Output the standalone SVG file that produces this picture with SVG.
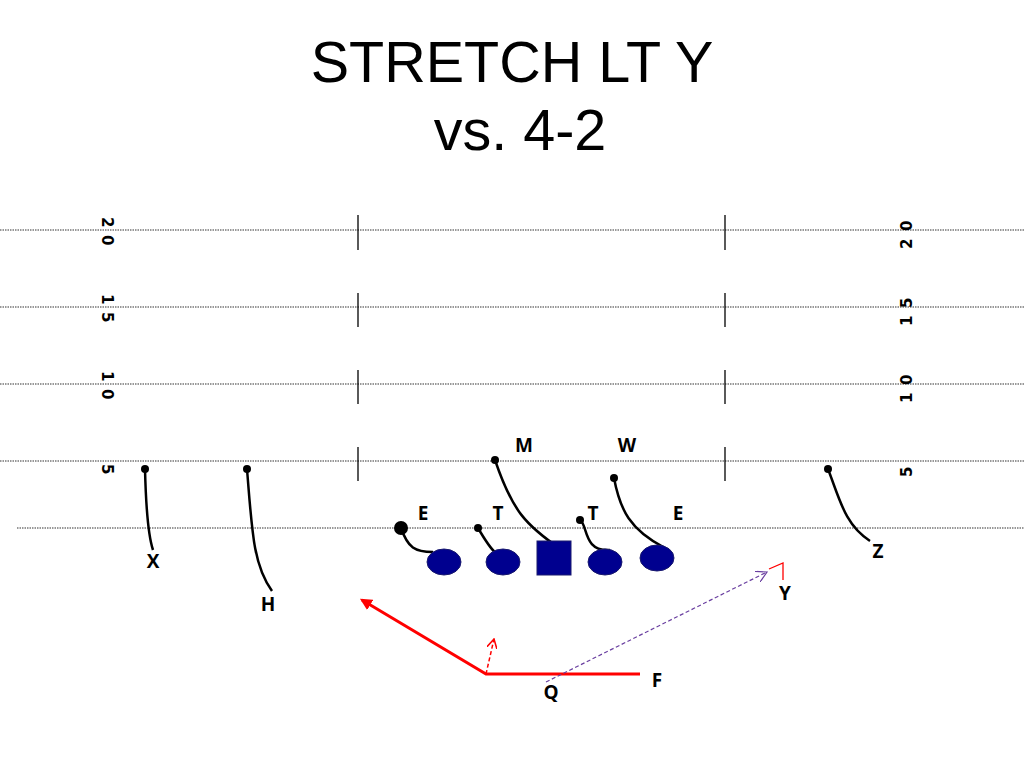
<svg xmlns="http://www.w3.org/2000/svg" width="1024" height="768" viewBox="0 0 1024 768">
<style>
.title{font-family:"Liberation Sans",Arial,sans-serif;font-size:57.5px;fill:#000;text-anchor:middle}
.yard{stroke:#777;stroke-width:1.3;stroke-dasharray:1.5 1}
.hash{stroke:#000;stroke-width:1.3}
.num{font-family:"DejaVu Sans","Liberation Sans",sans-serif;font-size:15px;font-weight:bold;fill:#000}
.lbl{font-family:"Open Sans","Liberation Sans",sans-serif;font-size:19px;font-weight:bold;fill:#000;text-anchor:middle}
.route{fill:none;stroke:#000;stroke-width:2.5}
.dot{fill:#000}
.ol{fill:#00008f;stroke:#1a1a6e;stroke-width:1}
</style>
<defs>
<marker id="redArrow" viewBox="0 0 10 10" refX="8" refY="5" markerWidth="4" markerHeight="4" orient="auto-start-reverse" markerUnits="strokeWidth">
<path d="M0,0 L10,5 L0,10 z" fill="#f00"/>
</marker>
<marker id="redOpen" viewBox="0 0 10 10" refX="9" refY="5" markerWidth="7" markerHeight="7" orient="auto" markerUnits="strokeWidth">
<path d="M0,0 L9,5 L0,10" fill="none" stroke="#f00" stroke-width="1.5"/>
</marker>
<marker id="purpleOpen" viewBox="0 0 10 10" refX="9" refY="5" markerWidth="10" markerHeight="10" orient="auto" markerUnits="strokeWidth">
<path d="M0,0 L9,5 L0,10" fill="none" stroke="#6a3fa0" stroke-width="1"/>
</marker>
</defs>
<rect width="1024" height="768" fill="#fff"/>
<g id="title">
<text class="title" x="512" y="82">STRETCH LT Y</text>
<text class="title" x="520" y="150">vs. 4-2</text>
</g>
<g id="field">
<line class="yard" x1="0" y1="230" x2="1024" y2="230"/>
<line class="yard" x1="0" y1="307" x2="1024" y2="307"/>
<line class="yard" x1="0" y1="384" x2="1024" y2="384"/>
<line class="yard" x1="0" y1="461" x2="1024" y2="461"/>
<line class="yard" x1="17" y1="528" x2="1024" y2="528"/>
<line class="hash" x1="358" y1="215" x2="358" y2="250"/>
<line class="hash" x1="358" y1="293" x2="358" y2="327"/>
<line class="hash" x1="358" y1="370" x2="358" y2="404"/>
<line class="hash" x1="358" y1="447" x2="358" y2="481"/>
<line class="hash" x1="725" y1="215" x2="725" y2="250"/>
<line class="hash" x1="725" y1="293" x2="725" y2="327"/>
<line class="hash" x1="725" y1="370" x2="725" y2="404"/>
<line class="hash" x1="725" y1="447" x2="725" y2="481"/>
<text class="num" x="0 18" y="0" transform="translate(102,217) rotate(90)">20</text>
<text class="num" x="0 18" y="0" transform="translate(102,294) rotate(90)">15</text>
<text class="num" x="0 18" y="0" transform="translate(102,371) rotate(90)">10</text>
<text class="num" x="0" y="0" transform="translate(102,464) rotate(90)">5</text>
<text class="num" x="0 18" y="0" transform="translate(912,249) rotate(-90)">20</text>
<text class="num" x="0 18" y="0" transform="translate(912,326) rotate(-90)">15</text>
<text class="num" x="0 18" y="0" transform="translate(912,403) rotate(-90)">10</text>
<text class="num" x="0" y="0" transform="translate(912,477) rotate(-90)">5</text>
</g>
<g id="connectors">
<path class="route" d="M401,528 C408,548 415,552 433,552"/>
<path class="route" d="M478,528 C492,552 497,559 518,560"/>
<path class="route" d="M495,460 C512,510 525,525 562,550"/>
<path class="route" d="M580,520 C588,525 583,552 610,550"/>
<path class="route" d="M614,478 C620,510 630,530 665,548"/>
<path class="route" d="M145,469 C146,510 148,535 153,550"/>
<path class="route" d="M247,469 C252,530 253,565 272,591"/>
<path class="route" d="M828,469 C840,500 845,525 870,541"/>
<polyline points="640,674 486,674 362,600" fill="none" stroke="#f00" stroke-width="3" marker-end="url(#redArrow)"/>
<line x1="486" y1="674" x2="494" y2="639" stroke="#f00" stroke-width="1.5" stroke-dasharray="4 2.5" marker-end="url(#redOpen)"/>
<line x1="546" y1="682" x2="767" y2="572" stroke="#6a3fa0" stroke-width="1.2" stroke-dasharray="4 2.5" marker-end="url(#purpleOpen)"/>
<polyline points="769,569 783,563 783,580" fill="none" stroke="#f00" stroke-width="1.3"/>
</g>
<g id="E-left"><circle class="dot" cx="401" cy="528" r="7"/><text class="lbl" x="423" y="520">E</text></g>
<g id="T-left"><circle class="dot" cx="478" cy="528" r="4"/><text class="lbl" x="498" y="520">T</text></g>
<g id="M"><circle class="dot" cx="495" cy="460" r="4"/><text class="lbl" x="524" y="452">M</text></g>
<g id="T-right"><circle class="dot" cx="580" cy="520" r="4"/><text class="lbl" x="593" y="520">T</text></g>
<g id="W"><circle class="dot" cx="614" cy="478" r="4"/><text class="lbl" x="627" y="452">W</text></g>
<g id="E-right"><text class="lbl" x="678" y="520">E</text></g>
<g id="X"><circle class="dot" cx="145" cy="469" r="4"/><text class="lbl" x="153" y="568">X</text></g>
<g id="H"><circle class="dot" cx="247" cy="469" r="4"/><text class="lbl" x="268" y="611">H</text></g>
<g id="Z"><circle class="dot" cx="828" cy="469" r="4"/><text class="lbl" x="878" y="558">Z</text></g>
<g id="Y"><text class="lbl" x="785" y="600">Y</text></g>
<g id="Q"><text class="lbl" x="551" y="699">Q</text></g>
<g id="F"><text class="lbl" x="657" y="687">F</text></g>
<g id="OL1"><ellipse class="ol" cx="444" cy="562" rx="17" ry="13"/></g>
<g id="OL2"><ellipse class="ol" cx="503" cy="562" rx="17" ry="13"/></g>
<g id="C"><rect class="ol" x="537" y="541" width="34" height="34"/></g>
<g id="OL4"><ellipse class="ol" cx="605" cy="562" rx="17" ry="13"/></g>
<g id="OL5"><ellipse class="ol" cx="657" cy="558" rx="17" ry="13"/></g>
</svg>
